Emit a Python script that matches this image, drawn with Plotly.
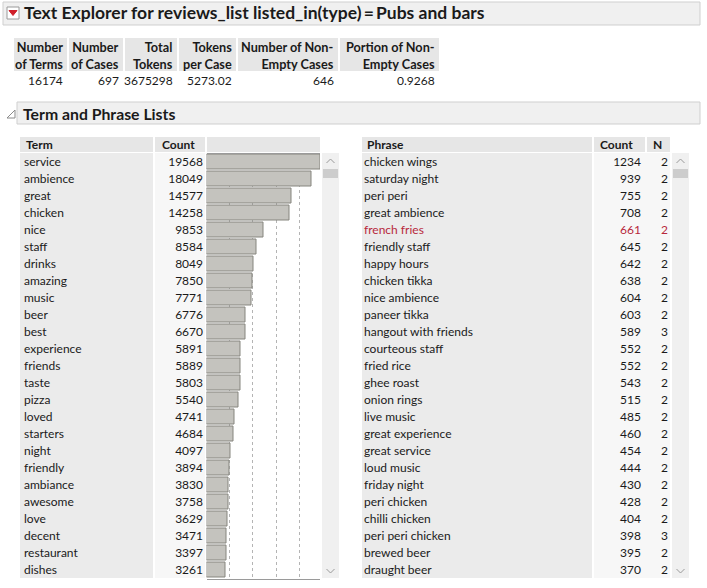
import plotly.graph_objects as go

W, H = 707, 588

# term list
terms = ["service", "ambience", "great", "chicken", "nice", "staff", "drinks", "amazing",
         "music", "beer", "best", "experience", "friends", "taste", "pizza", "loved",
         "starters", "night", "friendly", "ambiance", "awesome", "love", "decent",
         "restaurant", "dishes"]
term_counts = [19568, 18049, 14577, 14258, 9853, 8584, 8049, 7850, 7771, 6776, 6670,
               5891, 5889, 5803, 5540, 4741, 4684, 4097, 3894, 3830, 3758, 3629, 3471,
               3397, 3261]

# phrase list
phrases = ["chicken wings", "saturday night", "peri peri", "great ambience", "french fries",
           "friendly staff", "happy hours", "chicken tikka", "nice ambience", "paneer tikka",
           "hangout with friends", "courteous staff", "fried rice", "ghee roast", "onion rings",
           "live music", "great experience", "great service", "loud music", "friday night",
           "peri chicken", "chilli chicken", "peri peri chicken", "brewed beer", "draught beer"]
phrase_counts = [1234, 939, 755, 708, 661, 645, 642, 638, 604, 603, 589, 552, 552, 543,
                 515, 485, 460, 454, 444, 430, 428, 404, 398, 395, 370]
phrase_n = [2, 2, 2, 2, 2, 2, 2, 2, 2, 2, 3, 2, 2, 2, 2, 2, 2, 2, 2, 2, 2, 2, 3, 2, 2]
highlight = "french fries"

# summary table
summary_headers = ["Number<br>of Terms", "Number<br>of Cases", "Total<br>Tokens",
                   "Tokens<br>per Case", "Number of Non-<br>Empty Cases",
                   "Portion of Non-<br>Empty Cases"]
summary_values = ["16174", "697", "3675298", "5273.02", "646", "0.9268"]

title = "Text Explorer for reviews_list listed_in(type)\u2009=\u2009Pubs and bars"
section = "Term and Phrase Lists"

FONT = "Segoe UI, Lato, sans-serif"
TXT = "#1a1a1a"
RED = "#b8283c"
HDR = "#e6e6e6"
COL = "#ebebeb"


def px(x):
    return x / W


def py(y):
    return 1 - y / H


shapes = []
annotations = []


def box(x0, y0, x1, y1, fill, line=None):
    shapes.append(dict(type="rect", xref="paper", yref="paper", layer="below",
                       x0=px(x0), x1=px(x1), y0=py(y1), y1=py(y0), fillcolor=fill,
                       line=dict(width=1 if line else 0, color=line or fill)))


def label(x, y, text, anchor="left", size=12, bold=False, color=TXT):
    annotations.append(dict(xref="paper", yref="paper", x=px(x), y=py(y), text=text,
                            showarrow=False, xanchor=anchor, yanchor="middle", align=anchor,
                            font=dict(family=FONT, size=size, color=color,
                                      weight="bold" if bold else "normal")))


def chevron(cx, cy, up=True):
    d = 3 if up else -3
    shapes.append(dict(type="path", xref="paper", yref="paper",
                       path=f"M {px(cx-4)},{py(cy+d/1.5)} L {px(cx)},{py(cy-d/1.5)} L {px(cx+4)},{py(cy+d/1.5)}",
                       line=dict(color="#9a9a9a", width=1)))


# outline title bar
box(3, 2, 700, 25, "#f0f0f0", "#cfcfcf")
shapes.append(dict(type="rect", xref="paper", yref="paper", x0=px(7), x1=px(19),
                   y0=py(19), y1=py(7), fillcolor="#ffffff", line=dict(color="#9a9a9a", width=1)))
shapes.append(dict(type="path", xref="paper", yref="paper",
                   path=f"M {px(9)},{py(10.5)} L {px(17)},{py(10.5)} L {px(13)},{py(15.5)} Z",
                   fillcolor="#d0202a", line=dict(color="#d0202a", width=1)))
label(22, 13, title, size=17.5, bold=True)

# summary table
cells = [(13, 68), (68, 124), (124, 178), (178, 237), (237, 339), (339, 440)]
for (a, b), head, val in zip(cells, summary_headers, summary_values):
    box(a + 1, 38, b - 1, 71, HDR)
    label(b - 3, 55, head, anchor="right", size=12.7, bold=True)
    label(b - 3, 80, val, anchor="right")

# section header
box(17, 102, 700, 124, "#f0f0f0", "#cfcfcf")
shapes.append(dict(type="path", xref="paper", yref="paper",
                   path=f"M {px(7)},{py(118)} L {px(15)},{py(118)} L {px(15)},{py(110)} Z",
                   fillcolor="#ffffff", line=dict(color="#8a8a8a", width=1)))
label(21, 113, section, size=15.8, bold=True)

# term table frame
box(20, 137, 153, 152, HDR)
box(155, 137, 205, 152, HDR)
box(207, 137, 320, 152, HDR)
box(20, 153, 153, 578, COL)
box(155, 153, 205, 578, "#f7f7f7")
label(24, 144.5, "Term", bold=True)
label(160, 144.5, "Count", bold=True)

# phrase table frame
box(362, 137, 592, 152, HDR)
box(594, 137, 645, 152, HDR)
box(647, 137, 670, 152, HDR)
box(362, 153, 592, 578, COL)
box(594, 153, 670, 578, "#f7f7f7")
label(365, 144.5, "Phrase", bold=True)
label(598, 144.5, "Count", bold=True)
label(651, 144.5, "N", bold=True)

# scroll bars
for x0 in (322, 672):
    box(x0, 153, x0 + 17, 578, "#f0f0f0")
    box(x0 + 1, 169, x0 + 16, 178, "#cdcdcd")
    chevron(x0 + 8.5, 161, up=True)
    chevron(x0 + 8.5, 571, up=False)

rows = list(range(len(terms)))
fig = go.Figure()

fig.add_trace(go.Bar(x=term_counts, y=rows, orientation="h", width=0.88,
                     marker=dict(color="#c4c3be", line=dict(color="#86857f", width=1)),
                     hoverinfo="skip", showlegend=False))


def text_col(xpos, values, pos, colors=TXT):
    fig.add_trace(go.Scatter(x=[xpos] * len(values), y=rows, text=[str(v) for v in values],
                             mode="text", textposition=pos, xaxis="x2", yaxis="y2",
                             textfont=dict(family=FONT, size=12, color=colors),
                             cliponaxis=False, hoverinfo="skip", showlegend=False))


pcolors = [RED if p == highlight else TXT for p in phrases]
text_col(24, terms, "middle right")
text_col(203, term_counts, "middle left")
text_col(364, phrases, "middle right", pcolors)
text_col(641, phrase_counts, "middle left", pcolors)
text_col(668, phrase_n, "middle left", pcolors)

fig.update_layout(
    width=W, height=H,
    margin=dict(l=0, r=0, t=0, b=0),
    paper_bgcolor="white", plot_bgcolor="rgba(0,0,0,0)",
    showlegend=False,
    shapes=shapes, annotations=annotations,
    xaxis=dict(domain=[px(206.5), px(320)], range=[0, 19568], dtick=4000,
               showgrid=True, gridcolor="#b4b4b4", griddash="dot", gridwidth=1,
               showticklabels=False, ticks="", zeroline=False,
               showline=True, linecolor="#9a9a9a", mirror=True, fixedrange=True),
    yaxis=dict(domain=[py(578.5), py(153.5)], range=[len(terms) - 0.5, -0.5],
               showgrid=False, showticklabels=False, zeroline=False, fixedrange=True),
    # text rows sit about one pixel below the bar centres in the original
    yaxis2=dict(domain=[py(579.5), py(154.5)], range=[len(terms) - 0.5, -0.5],
                anchor="x2", visible=False, fixedrange=True),
    xaxis2=dict(domain=[0, 1], range=[0, W], anchor="y2", visible=False, fixedrange=True),
    bargap=0,
)

# the page body has a default 8px margin; drop it so the figure fills the window
fig.write_html("out.html", config={"displayModeBar": False},
               post_script="document.body.style.margin='0';")
